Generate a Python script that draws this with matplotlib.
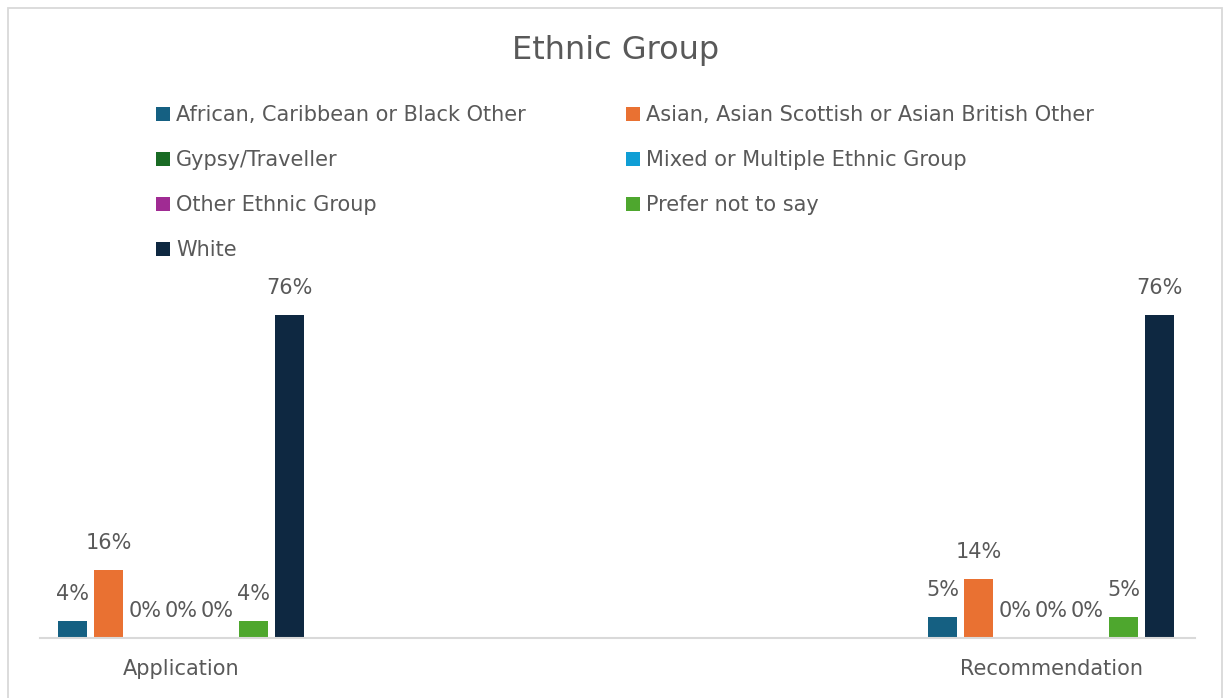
import numpy as np
import matplotlib.pyplot as plt
from matplotlib.patches import Patch, Rectangle

# Ethnic group share (%) by stage
categories = ["Application", "Recommendation"]
groups = [
    "African, Caribbean or Black Other",
    "Asian, Asian Scottish or Asian British Other",
    "Gypsy/Traveller",
    "Mixed or Multiple Ethnic Group",
    "Other Ethnic Group",
    "Prefer not to say",
    "White",
]
application = [4, 16, 0, 0, 0, 4, 76]
recommendation = [5, 14, 0, 0, 0, 5, 76]
colors = ["#156082", "#E97132", "#196B24", "#0F9ED5", "#A02B93", "#4EA72E", "#0E2841"]

plt.rcParams["font.family"] = ["DejaVu Sans"]
text_color = "#595959"
fs = 15

W, H = 1225, 698
fig = plt.figure(figsize=(W / 100, H / 100), dpi=100)
ax = fig.add_axes([40 / W, 1 - 638 / H, 1155 / W, (638 - 290) / H])

x = np.arange(len(categories))
step = 0.0416
width = 0.0333
for i, g in enumerate(groups):
    vals = [application[i], recommendation[i]]
    bars = ax.bar(x + (i - 3) * step, vals, width, color=colors[i], label=g)
    ax.bar_label(bars, labels=[f"{v:.0f}%" for v in vals], padding=12,
                 fontsize=fs, color=text_color)

ax.set_xlim(-0.162, 1.1655)
ax.set_ylim(0, 81.9)
ax.set_xticks(x)
ax.set_xticklabels(categories, fontsize=fs, color=text_color)
ax.tick_params(axis="x", length=0, pad=15)
ax.set_yticks([])
for s in ["top", "left", "right"]:
    ax.spines[s].set_visible(False)
ax.spines["bottom"].set_color("#D9D9D9")
ax.spines["bottom"].set_linewidth(1.5)

fig.text(616 / W, 1 - 51 / H, "Ethnic Group", fontsize=23, color=text_color,
         ha="center", va="center")

# legend fills column-wise, so reorder to read across rows
order = [0, 2, 4, 6, 1, 3, 5]
handles = [Patch(facecolor=colors[i]) for i in order]
labels = [groups[i] for i in order]
fig.legend(handles, labels, ncol=2, loc="upper left",
           bbox_to_anchor=(156 / W, 1 - 105 / H), frameon=False,
           fontsize=fs, labelcolor=text_color, handlelength=0.67,
           handleheight=0.67, handletextpad=0.29, columnspacing=4.8,
           labelspacing=1.2, borderpad=0, borderaxespad=0)

fig.patches.append(Rectangle((8 / W, -0.02), (1222 - 8) / W, 1 - 8 / H + 0.02,
                             transform=fig.transFigure, fill=False,
                             edgecolor="#D9D9D9", linewidth=1.3))

fig.savefig("out.png", dpi=100)
